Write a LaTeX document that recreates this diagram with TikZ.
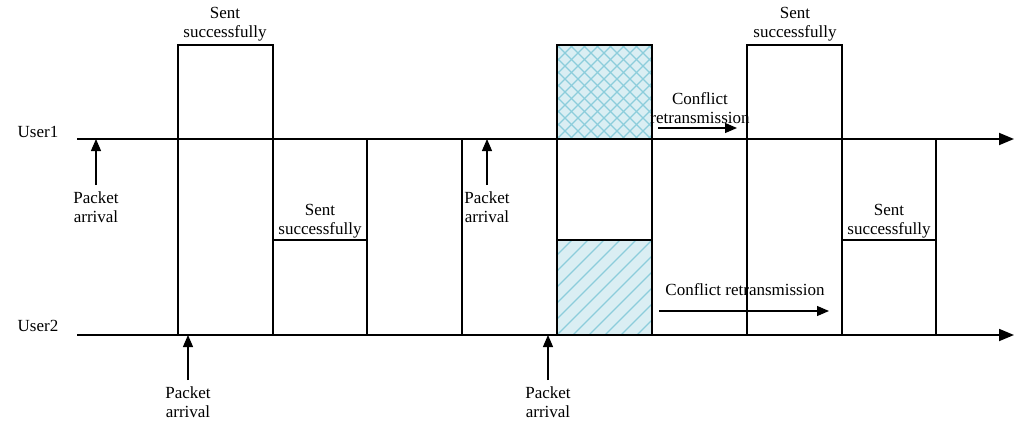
\documentclass[tikz,border=0pt]{standalone}
\usepackage{fontspec}
\setmainfont{Liberation Serif}
\usetikzlibrary{arrows.meta}
\definecolor{hatchfill}{HTML}{DAEEF3}
\definecolor{hatchline}{HTML}{8CCDDB}
\begin{document}
\begin{tikzpicture}[x=1pt,y=-1pt,
  axis/.style={line width=1.8pt,-{Triangle[length=15pt,width=12pt]}},
  slot/.style={line width=1.2pt},
  txt/.style={font=\fontsize{17}{19.5}\selectfont,align=center,inner sep=0pt},
  arr/.style={line width=1.2pt,-{Triangle[length=12pt,width=10pt]}},
  hatch/.style={hatchline,line width=1.3pt}]
\useasboundingbox (0,0) rectangle (1015,423);

% collision slot: cross-hatched part of User1
\begin{scope}
  \clip (557,45) rectangle (652,139);
  \fill[hatchfill] (557,45) rectangle (652,139);
  \foreach \d in {-104,-91,...,104} {
    \draw[hatch] ({557+\d},139) -- ({651+\d},45);
    \draw[hatch] ({557+\d},45) -- ({651+\d},139);
  }
\end{scope}
% collision slot: diagonal-hatched part of User2
\begin{scope}
  \clip (557,240) rectangle (652,335);
  \fill[hatchfill] (557,240) rectangle (652,335);
  \foreach \d in {-96,-80,...,96} {
    \draw[hatch] ({557+\d},335) -- ({652+\d},240);
  }
\end{scope}

% time slots
\draw[slot] (178,45) rectangle (273,335);
\draw[slot] (273,139) rectangle (367,335);
\draw[slot] (273,240) -- (367,240);
\draw[slot] (367,139) rectangle (462,335);
\draw[slot] (462,139) rectangle (557,335);
\draw[slot] (557,45) rectangle (652,335);
\draw[slot] (557,240) -- (652,240);
\draw[slot] (652,139) rectangle (747,335);
\draw[slot] (747,45) rectangle (842,335);
\draw[slot] (842,139) rectangle (936,335);
\draw[slot] (842,240) -- (936,240);

% time axes of the two users
\node[txt,anchor=base] (u1) at (38,137) {User1};
\node[txt,anchor=base] (u2) at (38,331) {User2};
\coordinate (u1s) at (77,139);
\coordinate (u1e) at (1014,139);
\coordinate (u2s) at (77,335);
\coordinate (u2e) at (1014,335);
\draw[axis] (u1s) -- (u1e);
\draw[axis] (u2s) -- (u2e);

% slot labels
\node[txt] (s1) at (225,24) {Sent\\successfully};
\node[txt] (s2) at (320,221) {Sent\\successfully};
\node[txt] (s3) at (795,24) {Sent\\successfully};
\node[txt] (s4) at (889,221) {Sent\\successfully};

% packet arrivals
\node[txt] (pa1) at (96,207) {Packet\\arrival};
\node[txt] (pa2) at (487,207) {Packet\\arrival};
\node[txt] (pa3) at (188,402) {Packet\\arrival};
\node[txt] (pa4) at (548,402) {Packet\\arrival};
\coordinate (pa1t) at (96,139);
\coordinate (pa2t) at (487,139);
\coordinate (pa3t) at (188,335);
\coordinate (pa4t) at (548,335);
\draw[arr,shorten <=6pt] (pa1.north) -- (pa1t);
\draw[arr,shorten <=6pt] (pa2.north) -- (pa2t);
\draw[arr,shorten <=6pt] (pa3.north) -- (pa3t);
\draw[arr,shorten <=6pt] (pa4.north) -- (pa4t);

% retransmission after the collision
\node[txt] (c1) at (700,108) {Conflict\\retransmission};
\coordinate (c1s) at (658,128);
\coordinate (c1e) at (737,128);
\draw[arr] (c1s) -- (c1e);
\node[txt] (c2) at (745,290) {Conflict retransmission};
\coordinate (c2s) at (659,311);
\coordinate (c2e) at (829,311);
\draw[arr] (c2s) -- (c2e);
\end{tikzpicture}
\end{document}
